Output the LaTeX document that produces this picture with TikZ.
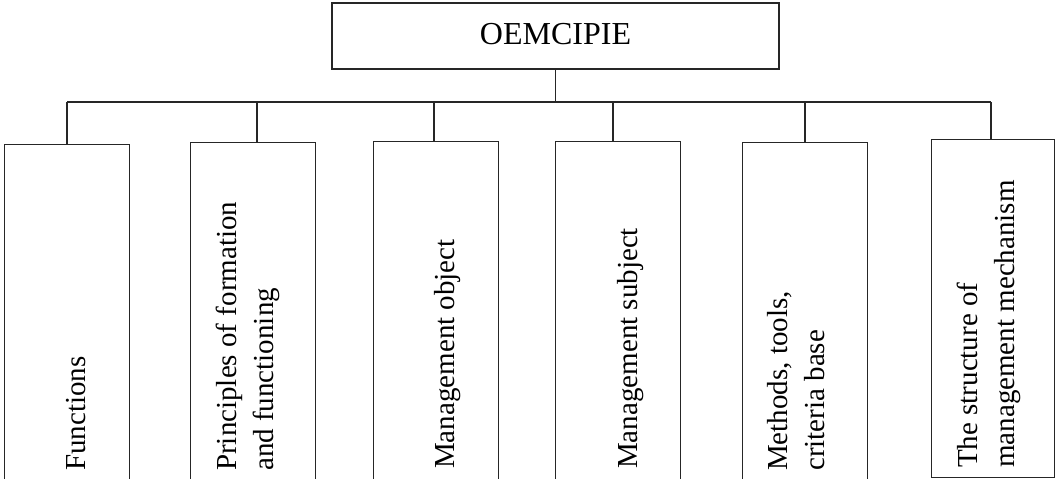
\documentclass[tikz,border=0pt]{standalone}
\usepackage{fontspec}
\setmainfont{Liberation Serif}
\begin{document}
\begin{tikzpicture}[x=1pt,y=1pt,
  line/.style={draw=black!85, line width=1.1pt},
  topbox/.style={line, inner sep=0pt, minimum width=447pt, minimum height=66pt,
    font=\fontsize{32}{36}\selectfont, text height=21pt, text depth=5pt},
  colbox/.style={line, inner sep=0pt, anchor=north west, minimum width=125pt},
  coltext/.style={rotate=90, anchor=north west, inner sep=0pt, align=left,
    font=\fontsize{29}{37}\selectfont}]
\useasboundingbox (0,0) rectangle (1055,-479);
\clip (0,0) rectangle (1055,-479);
% top box
\node[topbox] (top) at (555.5,-36) {OEMCIPIE};
% column boxes
\node[colbox, minimum height=360pt] (b1) at (4,-144) {};
\node[colbox, minimum height=360pt] (b2) at (190,-142) {};
\node[colbox, minimum height=360pt] (b3) at (373,-141) {};
\node[colbox, minimum height=360pt] (b4) at (555,-141) {};
\node[colbox, minimum height=360pt] (b5) at (742,-142) {};
\node[colbox, minimum width=123pt, minimum height=338pt] (b6) at (931,-139) {};
% texts
\node[coltext] (t1) at (66,-471) {Functions};
\node[coltext] (t2) at (216,-471) {Principles of formation\\and functioning};
\node[coltext] (t3) at (434,-469) {Management object};
\node[coltext] (t4) at (617,-469) {Management subject};
\node[coltext] (t5) at (767,-471) {Methods, tools,\\criteria base};
\node[coltext] (t6) at (957,-468) {The structure of\\management mechanism};
% junctions on the bus
\coordinate (j1) at (67,-102);
\coordinate (j2) at (257,-102);
\coordinate (j3) at (434,-102);
\coordinate (j4) at (613,-102);
\coordinate (j5) at (805,-102);
\coordinate (j6) at (991,-102);
% connectors
\draw[line] (top.south) -- (top.south |- j1);
\draw[line] (j1) -- (j6);
\draw[line] (j1) -- (j1 |- b1.north);
\draw[line] (j2) -- (j2 |- b2.north);
\draw[line] (j3) -- (j3 |- b3.north);
\draw[line] (j4) -- (j4 |- b4.north);
\draw[line] (j5) -- (j5 |- b5.north);
\draw[line] (j6) -- (j6 |- b6.north);
\end{tikzpicture}
\end{document}
